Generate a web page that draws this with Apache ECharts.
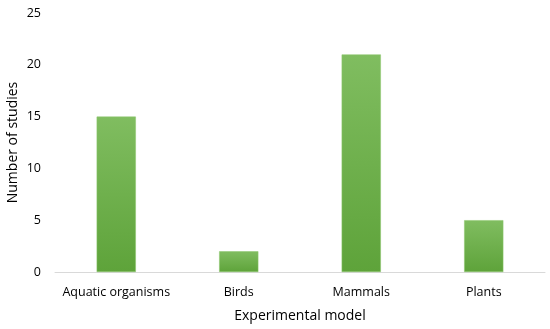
<!DOCTYPE html>
<html><head><meta charset="utf-8">
<script src="https://cdn.jsdelivr.net/npm/echarts@6/dist/echarts.min.js"></script>
<style>html,body{margin:0;padding:0;background:#fff}#c{width:550px;height:329px}</style>
</head><body><div id="c"></div>
<script>
const categories = ["Aquatic organisms", "Birds", "Mammals", "Plants"];
const studies = [15, 2, 21, 5];
const yTicks = [0, 5, 10, 15, 20, 25];

const chart = echarts.init(document.getElementById('c'), null, {renderer: 'canvas'});
const font = '"Open Sans", "Liberation Sans", sans-serif';
chart.setOption({
  animation: false,
  grid: {left: 55, right: 5, top: 13, bottom: 57, containLabel: false, outerBoundsMode: 'none'},
  xAxis: {
    type: 'category', data: categories,
    name: 'Experimental model', nameLocation: 'middle', nameGap: 37, nameMoveOverlap: false,
    nameTextStyle: {fontFamily: font, fontSize: 14, color: '#000'},
    axisLine: {lineStyle: {color: '#d9d9d9', width: 1}},
    axisTick: {show: false},
    axisLabel: {fontFamily: font, fontSize: 12.5, color: '#000', margin: 14, interval: 0, hideOverlap: false}
  },
  yAxis: {
    type: 'value', min: yTicks[0], max: yTicks[yTicks.length - 1], interval: 5,
    name: 'Number of studies', nameLocation: 'middle', nameGap: 35, nameMoveOverlap: false,
    nameTextStyle: {fontFamily: font, fontSize: 14, color: '#000'},
    axisLine: {show: false}, axisTick: {show: false}, splitLine: {show: false},
    axisLabel: {fontFamily: font, fontSize: 12.5, color: '#000', margin: 14}
  },
  series: [{
    type: 'bar', data: studies, barWidth: '32%',
    itemStyle: {
      color: new echarts.graphic.LinearGradient(0, 0, 0, 1, [
        {offset: 0, color: '#80bd60'},
        {offset: 1, color: '#5ea33a'}
      ]),
      borderColor: '#8cc76c', borderWidth: 0.5
    }
  }]
});
</script></body></html>
